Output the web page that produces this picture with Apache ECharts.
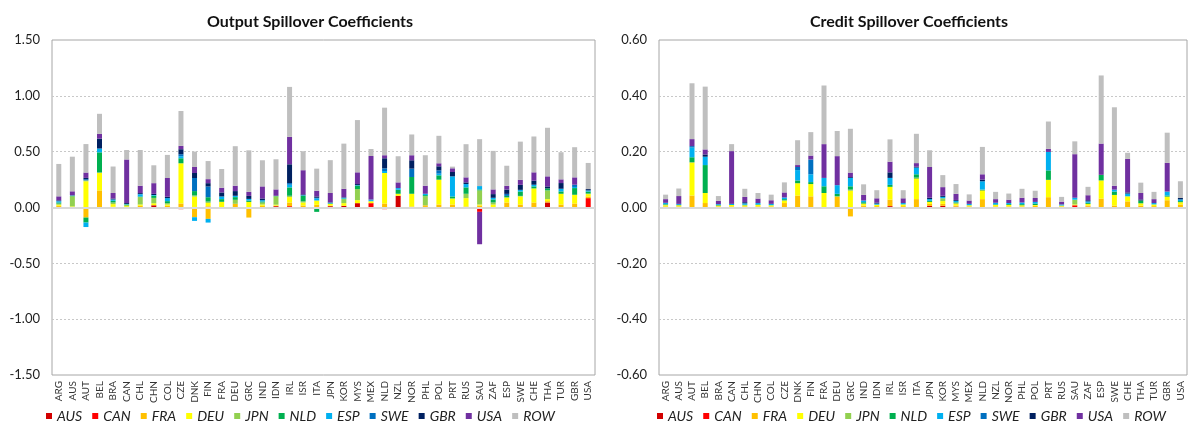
<!DOCTYPE html>
<html>
<head>
<meta charset="utf-8">
<script src="https://cdn.jsdelivr.net/npm/echarts@6/dist/echarts.min.js"></script>
<style>
  html, body { margin: 0; padding: 0; background: #fff; }
  #main { width: 1188px; height: 425px; }
</style>
</head>
<body>
<div id="main"></div>
<script>
// recipient countries (x axis)
var countries = ['ARG','AUS','AUT','BEL','BRA','CAN','CHL','CHN','COL','CZE','DNK','FIN','FRA','DEU','GRC','IND','IDN','IRL','ISR','ITA',
                 'JPN','KOR','MYS','MEX','NLD','NZL','NOR','PHL','POL','PRT','RUS','SAU','ZAF','ESP','SWE','CHE','THA','TUR','GBR','USA'];
// source countries (stack order, bottom to top)
var sources = ['AUS','CAN','FRA','DEU','JPN','NLD','ESP','SWE','GBR','USA','ROW'];
var colors = ['#D20000','#FF0000','#FFC000','#FFFF00','#92D050','#00B050','#00B0F0','#0070C0','#002060','#7030A0','#BFBFBF'];

// output spillover coefficients
var outAUS = [0.005,0,0,0,0.003,0,0,0.02,0,-0.015,0,0,0,0,0,0,0.012,0,0,0.004,0.012,0.015,0.039,0,0,0.105,0,0.005,0,0,0,0,0,0,0,0,0.045,0,0,0];
var outCAN = [0,-0.01,0,-0.01,0,0,0,0,0,0,0.005,0.008,0,0,0,0,-0.01,0.012,0,0,0,0,0,0.039,-0.015,0,-0.01,0,-0.008,-0.008,-0.008,-0.039,0,-0.01,0,0,0,0,0,0.084];
var outFRA = [0.01,0.005,-0.09,0.153,0.003,0.002,0.015,0,0.015,0.036,-0.087,-0.102,0,0.033,-0.09,0.015,0.005,0.033,0.018,0.02,0.005,0,0,0,0.036,0,0.009,0.015,0.027,0.027,0.009,0.018,0,0.045,0.027,0.045,0.012,0.027,0.036,0.015];
var outDEU = [0.01,0.005,0.235,0.156,0.024,0.01,0.012,0.018,0.012,0.36,0.093,0.033,0.051,0,0.05,0.012,0.008,0.048,0.027,0.035,0.015,0.024,0.027,0.015,0.273,0.018,0.114,0,0.222,0.054,0.075,0.009,0.027,0.042,0.072,0.126,0.018,0.096,0.078,0.021];
var outJPN = [0.01,0.09,0.008,0.005,0.015,0.012,0.066,0.048,0.012,0,0.01,0.012,0,0.036,0,0.018,0.075,0.012,0.01,0.005,0,0.036,0.099,0.005,0,0,0,0.081,0,0,0.039,0.126,0.018,0.005,0.005,0,0.078,0,0,0.005];
var outNLD = [0.01,0.005,-0.045,0.18,0.015,0.004,0.005,0.02,0.018,0.045,0.039,0.039,0.024,0.024,0.012,0.009,0.005,0.075,0.05,-0.039,0.005,0.005,0.03,0,0,0.036,0.15,0.01,0.039,0.018,0.057,0.009,0.027,0.012,0.039,0.018,0.018,0.021,0.06,0.018];
var outESP = [0.01,0.003,-0.04,0.03,0.012,0.004,0.02,0.006,0.027,0.018,-0.033,-0.033,0.024,0.012,0.015,0.012,0,0.024,0.005,0.018,0.006,0.008,0.005,0.012,0.018,0.015,0,0.012,0.015,0.18,0.03,0.03,0.015,0,0.015,0.015,0,0.024,0.01,0.01];
var outSWE = [0.005,0,0.01,0.006,0,0,0.003,0,0,0.018,0.117,0.096,0,0,0,0,0,0.015,0,0.005,0,0,0,0,0.024,0,0.075,-0.008,0.03,0,0,0,0,0.018,0,0,0,0,0.02,0];
var outGBR = [0.005,0.002,0.012,0.087,0.008,0.008,0.008,0.01,0.012,0.045,0.045,0.03,0.036,0.042,0.027,0.015,0,0.168,0.008,0.012,0.003,0.004,0.01,0,0.09,0,0.075,0,0.036,0.039,0.015,0,0.033,0.039,0.045,0.036,0.018,0.051,0,0.012];
var outUSA = [0.035,0.035,0.048,0.042,0.05,0.39,0.066,0.096,0.168,0.03,0.054,0.036,0.042,0.048,0.036,0.108,0.057,0.246,0.216,0.051,0.084,0.075,0.105,0.39,0.027,0.051,0.045,0.072,0.027,0.033,0.045,-0.29,0.042,0.033,0.045,0.075,0.09,0.033,0.066,0];
var outROW = [0.29,0.31,0.255,0.18,0.237,0.085,0.32,0.16,0.207,0.312,0.138,0.162,0.168,0.354,0.372,0.234,0.27,0.447,0.17,0.198,0.294,0.405,0.468,0.063,0.426,0.234,0.186,0.273,0.246,0.015,0.297,0.42,0.345,0.18,0.342,0.321,0.435,0.243,0.27,0.234];

// credit spillover coefficients
var crAUS = [0,0,0,0,0,0,0,0,0,0,0,0,0,0,0,0.002,0,0.005,0,0,0.006,0.006,0.003,0,0,0,0,0,0,0,0,0,0,0,0,0,0,0,0,0];
var crCAN = [0,0,0,0,0,0,0,0,0,0,0,0,0,0,0,0,0,0,0,0,0,0,0,0,0,0,0,0,0,0,0,0.008,0.003,0,0,0,0,0,0,0];
var crFRA = [0.004,0.004,0.043,0.016,0.004,0.004,0.004,0.004,0.004,0.016,0.043,0.04,0,0.038,-0.032,0.005,0.005,0.023,0.005,0.03,0.007,0.007,0.004,0.004,0.03,0.004,0.004,0.004,0.006,0.037,0.004,0,0.004,0.032,0.007,0.022,0.007,0.005,0.026,0.011];
var crDEU = [0.004,0.004,0.117,0.036,0.003,0.005,0.004,0.005,0.004,0.008,0.044,0.044,0.052,0,0.06,0.007,0.005,0.046,0.006,0.072,0.007,0.01,0.006,0.004,0.029,0.005,0.005,0.004,0.003,0.062,0.003,0.003,0.006,0.065,0.038,0.018,0.008,0.006,0.013,0.008];
var crJPN = [0.002,0,0.003,0,0,0,0,0,0,0.002,0,0,0,0.003,0.004,0,0,0,0,0.005,0,0.01,0.004,0,0.005,0,0,0,0,0,0,0.017,0,0,0,0,0,0,0,0];
var crNLD = [0.002,0.001,0.017,0.1,0.002,0,0.002,0.002,0,0.004,0.01,0.007,0.024,0.008,0.012,0.005,0,0.007,0,0.012,0.004,0,0.002,0,0,0.002,0.003,0.004,0.005,0.034,0,0,0.004,0.02,0.012,0,0.01,0,0.004,0.004];
var crESP = [0.004,0.003,0.035,0.03,0.003,0.004,0.005,0.005,0.005,0.006,0.037,0.028,0.03,0.031,0.03,0.006,0.004,0.025,0.005,0.024,0.006,0.005,0.005,0.005,0.03,0.006,0.004,0.006,0.006,0.066,0.004,0.007,0.005,0,0.007,0.01,0,0.005,0.014,0.006];
var crSWE = [0,0,0.005,0,0,0,0,0,0,0,0.011,0.053,0,0,0,0,0,0,0,0,0,0,0,0,0,0,0,0,0,0,0,0,0,0,0,0,0,0,0,0];
var crGBR = [0.001,0.001,0,0.008,0,0,0.004,0,0,0,0,0,0,0,0.003,0,0.003,0.02,0,0.003,0.005,0.004,0.003,0,0.006,0,0,0,0,0,0,0,0.004,0,0,0.004,0.004,0,0,0.005];
var crUSA = [0.013,0.028,0.025,0.018,0.012,0.189,0.019,0.016,0.013,0.018,0.007,0.014,0.121,0.104,0.016,0.02,0.016,0.038,0.017,0.013,0.11,0.031,0.022,0.012,0.019,0.013,0.012,0.017,0.014,0.011,0.01,0.156,0.018,0.112,0.014,0.12,0.023,0.014,0.103,0];
var crROW = [0.016,0.027,0.2,0.225,0.017,0.025,0.029,0.02,0.02,0.036,0.089,0.084,0.21,0.09,0.157,0.038,0.029,0.08,0.029,0.105,0.06,0.043,0.035,0.022,0.098,0.026,0.022,0.032,0.026,0.098,0.017,0.046,0.03,0.244,0.281,0.022,0.037,0.026,0.108,0.06];

var outputData = [outAUS, outCAN, outFRA, outDEU, outJPN, outNLD, outESP, outSWE, outGBR, outUSA, outROW];
var creditData = [crAUS, crCAN, crFRA, crDEU, crJPN, crNLD, crESP, crSWE, crGBR, crUSA, crROW];

var font = 'Lato, "Open Sans", sans-serif';

function makeSeries(list, idx, stackName) {
    return list.map(function (values, i) {
        var s = {
            name: sources[i],
            type: 'bar',
            stack: stackName,
            xAxisIndex: idx,
            yAxisIndex: idx,
            barWidth: 5,
            data: values
        };
        if (i === 0) {
            // solid zero line
            s.markLine = {
                silent: true,
                symbol: 'none',
                label: { show: false },
                lineStyle: { color: '#D9D9D9', width: 2, type: 'solid' },
                data: [{ yAxis: 0 }]
            };
        }
        return s;
    });
}

function xAxisFor(idx) {
    return {
        type: 'category',
        gridIndex: idx,
        data: countries,
        axisLine: { show: false },
        axisTick: { show: false },
        axisLabel: { interval: 0, rotate: 90, fontSize: 10, margin: 6, color: '#333', fontFamily: font }
    };
}

function yAxisFor(idx, lim, step) {
    return {
        type: 'value',
        gridIndex: idx,
        min: -lim,
        max: lim,
        interval: step,
        axisLine: { show: false },
        axisTick: { show: false },
        axisLabel: {
            fontSize: 13, margin: 12, color: '#222', fontFamily: font,
            formatter: function (v) { return v.toFixed(2); }
        },
        splitLine: {
            show: true,
            showMinLine: false,
            showMaxLine: false,
            lineStyle: { color: '#C8C8C8', type: [2, 2], width: 1 }
        }
    };
}

function legendFor(left) {
    return {
        left: left,
        top: 404,
        icon: 'rect',
        itemWidth: 6,
        itemHeight: 6,
        itemGap: 10,
        data: sources,
        textStyle: { fontSize: 14, fontStyle: 'italic', color: '#222', fontFamily: font }
    };
}

var myChart = echarts.init(document.getElementById('main'));

var option = {
    animation: false,
    color: colors,
    title: [
        { text: 'Output Spillover Coefficients', left: 305, top: 9, textAlign: 'center',
          textStyle: { fontSize: 16, fontWeight: 'bold', color: '#111', fontFamily: font } },
        { text: 'Credit Spillover Coefficients', left: 904, top: 9, textAlign: 'center',
          textStyle: { fontSize: 16, fontWeight: 'bold', color: '#111', fontFamily: font } }
    ],
    legend: [legendFor(41), legendFor(652)],
    grid: [
        { left: 52, right: 593, top: 40, bottom: 50, show: true, borderColor: '#A6A6A6', borderWidth: 1 },
        { left: 659, right: 1, top: 40, bottom: 50, show: true, borderColor: '#A6A6A6', borderWidth: 1 }
    ],
    xAxis: [xAxisFor(0), xAxisFor(1)],
    yAxis: [yAxisFor(0, 1.5, 0.5), yAxisFor(1, 0.6, 0.2)],
    series: makeSeries(outputData, 0, 'out').concat(makeSeries(creditData, 1, 'credit'))
};

myChart.setOption(option);
</script>
</body>
</html>
